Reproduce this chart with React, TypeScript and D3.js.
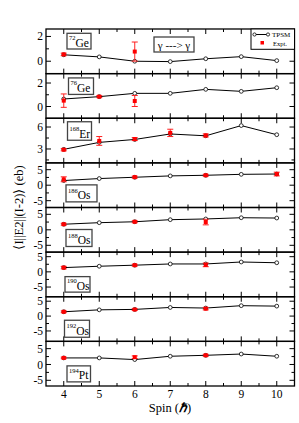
import * as d3 from 'd3';

// spin values (hbar) on the x axis
const SPINS = [4, 5, 6, 7, 8, 9, 10];

// nuclei, one per panel (top to bottom)
const MASS = ['72', '76', '168', '186', '188', '190', '192', '194'];
const ELEMENT = ['Ge', 'Ge', 'Er', 'Os', 'Os', 'Os', 'Os', 'Pt'];

// TPSM B(E2) reduced matrix elements (eb), one row per nucleus
const TPSM = [
  [0.52, 0.35, 0.0, -0.03, 0.2, 0.37, 0.05],
  [0.64, 0.84, 1.12, 1.12, 1.46, 1.29, 1.6],
  [2.95, 3.9, 4.3, 5.05, 4.8, 6.2, 4.95],
  [1.5, 2.14, 2.56, 3.0, 3.2, 3.5, 3.6],
  [1.8, 2.3, 2.6, 3.27, 3.5, 3.9, 3.8],
  [1.4, 1.85, 2.2, 2.6, 2.6, 3.25, 3.0],
  [1.45, 2.1, 2.25, 2.9, 2.7, 3.5, 3.35],
  [2.07, 2.07, 1.55, 2.6, 2.9, 3.3, 2.6],
];

// experimental points
const EXPT_SPINS = [[4, 6], [4, 5, 6], [4, 5, 6, 7, 8], [4, 6, 8, 10], [4, 6, 8], [4, 6, 8], [4, 6, 8], [4, 6, 8]];
const EXPT_VALUES = [
  [0.55, 0.78],
  [0.5, 0.84, 0.47],
  [2.9, 4.1, 4.35, 5.2, 4.85],
  [1.9, 2.6, 3.2, 3.6],
  [1.8, 2.6, 2.5],
  [1.4, 2.2, 2.3],
  [1.45, 2.2, 2.5],
  [2.07, 2.3, 2.9],
];
const EXPT_ERRORS = [
  [0.1, 0.77],
  [0.57, 0.08, 0.47],
  [0.15, 0.6, 0.2, 0.5, 0.2],
  [0.8, 0.3, 0.3, 0.6],
  [0.3, 0.3, 0.9],
  [0.4, 0.3, 0.6],
  [0.3, 0.3, 0.4],
  [0.25, 0.4, 0.3],
];

// axis setup per panel
const Y_DOMAINS = [[-1, 2.6], [-1, 2.8], [1.1, 7.2], [-7.2, 7.2], [-7.2, 7.2], [-8.2, 6.5], [-8.5, 6.5], [-6.8, 7.3]];
const Y_MAJOR = [[0, 2], [0, 2], [3, 6], [-5, 0, 5], [-5, 0, 5], [-5, 0, 5], [-5, 0, 5], [-5, 0, 5]];
const Y_MINOR = [[1], [1], [1.5, 4.5], [-2.5, 2.5], [-2.5, 2.5], [-2.5, 2.5], [-2.5, 2.5], [-2.5, 2.5]];
const X_MINOR = [4.5, 5.5, 6.5, 7.5, 8.5, 9.5];

// nucleus label boxes: [x, offset from panel top, width, height]
const LABEL_BOX = [
  [67, 4.3, 24, 15.7],
  [68.5, 4.3, 25, 16.5],
  [67.5, 3.5, 24, 18.5],
  [66, 22, 31, 17],
  [66, 22, 26, 17],
  [65, 24.5, 25, 15.5],
  [64.5, 23.5, 25, 17],
  [67, 24.5, 23.5, 16],
];

const W = 299;
const H = 423;
const LEFT = 46;
const RIGHT = 294.5;
const TOP = 29;
const BOTTOM = 386;
const PANEL_H = (BOTTOM - TOP) / MASS.length;
const FONT = '"Liberation Serif", "Times New Roman", serif';

export default function App() {
  const x = d3.scaleLinear().domain([3.5, 10.5]).range([LEFT, RIGHT]);
  const line = d3.line<[number, number]>();

  return (
    <svg
      width={W}
      height={H}
      style={{ position: 'absolute', left: 0, top: 0, background: '#fff' }}
      fontFamily={FONT}
    >
      {MASS.map((mass, p) => {
        const top = TOP + p * PANEL_H;
        const bot = top + PANEL_H;
        const y = d3.scaleLinear().domain(Y_DOMAINS[p]).range([bot, top]);
        const pts: [number, number][] = SPINS.map((s, i) => [x(s), y(TPSM[p][i])]);
        const [bx, bOff, bw, bh] = LABEL_BOX[p];
        const by = top + bOff;
        return (
          <g key={mass + p}>
            {/* x ticks, top and bottom of each panel */}
            {SPINS.map((s) => (
              <g key={'xt' + s} stroke="#000" strokeWidth={1}>
                <line x1={x(s)} x2={x(s)} y1={top} y2={top + 5} />
                <line x1={x(s)} x2={x(s)} y1={bot} y2={bot - 5} />
              </g>
            ))}
            {X_MINOR.map((s) => (
              <g key={'xm' + s} stroke="#000" strokeWidth={1}>
                <line x1={x(s)} x2={x(s)} y1={top} y2={top + 3} />
                <line x1={x(s)} x2={x(s)} y1={bot} y2={bot - 3} />
              </g>
            ))}
            {/* y ticks, left and right */}
            {Y_MAJOR[p].map((v) => (
              <g key={'yt' + v}>
                <line x1={LEFT} x2={LEFT + 5} y1={y(v)} y2={y(v)} stroke="#000" />
                <line x1={RIGHT} x2={RIGHT - 5} y1={y(v)} y2={y(v)} stroke="#000" />
                <text x={43} y={y(v)} dy="0.35em" textAnchor="end" fontSize={11.5}>
                  {v < 0 ? '-' + Math.abs(v) : v}
                </text>
              </g>
            ))}
            {Y_MINOR[p].map((v) => (
              <g key={'ym' + v} stroke="#000">
                <line x1={LEFT} x2={LEFT + 3} y1={y(v)} y2={y(v)} />
                <line x1={RIGHT} x2={RIGHT - 3} y1={y(v)} y2={y(v)} />
              </g>
            ))}

            {/* TPSM curve */}
            <path d={line(pts) || ''} fill="none" stroke="#000" strokeWidth={1} />
            {pts.map(([cx, cy], i) => (
              <circle key={'c' + i} cx={cx} cy={cy} r={1.9} fill="#fff" stroke="#000" strokeWidth={0.8} />
            ))}

            {/* experimental points with error bars */}
            {EXPT_SPINS[p].map((s, i) => {
              const v = EXPT_VALUES[p][i];
              const e = EXPT_ERRORS[p][i];
              const cx = x(s);
              const y0 = y(v - e);
              const y1 = y(v + e);
              return (
                <g key={'e' + i} stroke="#ff2020" strokeWidth={1}>
                  <line x1={cx} x2={cx} y1={y0} y2={y1} />
                  <line x1={cx - 3} x2={cx + 3} y1={y0} y2={y0} />
                  <line x1={cx - 3} x2={cx + 3} y1={y1} y2={y1} />
                  <rect x={cx - 2} y={y(v) - 2} width={4} height={4} fill="#ff0000" stroke="none" />
                </g>
              );
            })}

            {/* nucleus label */}
            <rect x={bx} y={by} width={bw} height={bh} fill="#fff" stroke="#444" strokeWidth={1.3} />
            <text x={bx + 2} y={by + bh - 2.5} fill="#000">
              <tspan fontSize={6.5} dy={-6.5}>{mass}</tspan>
              <tspan fontSize={11.5} dy={6.5}>{ELEMENT[p]}</tspan>
            </text>

            {/* panel frame */}
            <rect x={LEFT} y={top} width={RIGHT - LEFT} height={PANEL_H} fill="none" stroke="#000" strokeWidth={1.3} />
          </g>
        );
      })}

      {/* transition label */}
      <rect x={154} y={37} width={40} height={15} fill="#fff" stroke="#444" strokeWidth={1.3} />
      <text x={174} y={48.5} textAnchor="middle" fontSize={11}>γ ---&gt; γ</text>

      {/* legend */}
      <rect x={251} y={TOP} width={RIGHT - 251} height={20.3} fill="#fff" stroke="#000" strokeWidth={1} />
      <line x1={254.5} x2={268} y1={34.5} y2={34.5} stroke="#000" strokeWidth={1} />
      <circle cx={254.5} cy={34.5} r={1.6} fill="#fff" stroke="#000" strokeWidth={0.8} />
      <circle cx={268} cy={34.5} r={1.6} fill="#fff" stroke="#000" strokeWidth={0.8} />
      <text x={272} y={37} fontSize={7}>TPSM</text>
      <rect x={260.5} y={41} width={3.5} height={3.5} fill="#ff0000" />
      <text x={273} y={45.5} fontSize={6.5}>Expt.</text>

      {/* x tick labels */}
      {SPINS.map((s) => (
        <text key={'xl' + s} x={x(s)} y={397.5} textAnchor="middle" fontSize={11.5}>{s}</text>
      ))}

      {/* axis titles */}
      <text x={170} y={412} textAnchor="middle" fontSize={12.5}>
        Spin (<tspan fontWeight="bold" fontStyle="italic">ℏ</tspan>)
      </text>
      <text
        transform={`translate(23,${(TOP + BOTTOM) / 2}) rotate(-90)`}
        textAnchor="middle"
        fontSize={12.5}
      >
        ⟨I||E2||(I-2)⟩ (eb)
      </text>
    </svg>
  );
}
